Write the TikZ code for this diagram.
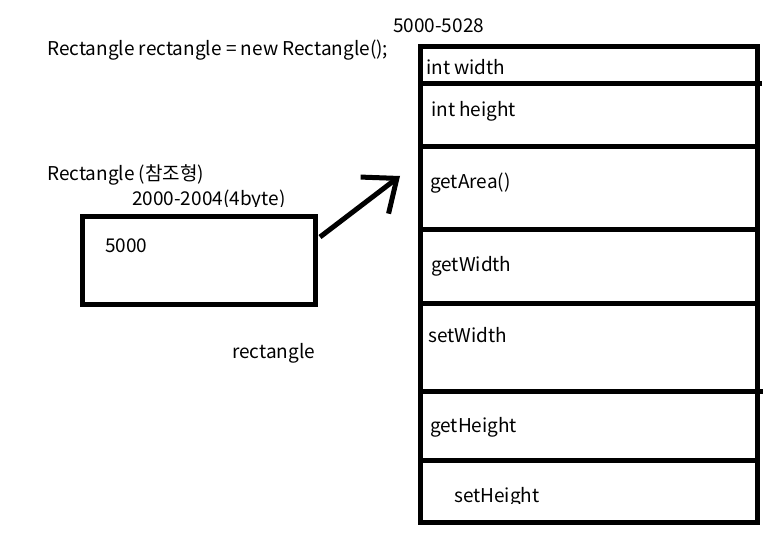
\documentclass[tikz,border=0pt]{standalone}
\usepackage{fontspec}
\setmainfont{Noto Sans CJK KR}
\usetikzlibrary{arrows.meta,positioning}

\begin{document}
\begin{tikzpicture}[x=1pt,y=-1pt,
        box/.style={draw,line width=5pt,inner sep=0pt},
        lbl/.style={anchor=base west,inner sep=0pt,font=\fontsize{19}{22}\selectfont}]
    \useasboundingbox (0,0) rectangle (783,534);
    % code line and object memory
    \node[lbl] (code) at (47,56) {Rectangle rectangle = new Rectangle();};
    \node[lbl] (addr) at (393,33) {5000-5028};
    \node[box,minimum width=337pt,minimum height=476pt,anchor=north west] (heap) at (418,44) {};
    \foreach \y/\e in {84/762,147/757,230/757,303/757,391/763,460/755}
        \draw[line width=5pt] (418,\y) -- (\e,\y);
    \node[lbl] (width)   at (426,75)  {int width};
    \node[lbl] (height)  at (431,117) {int height};
    \node[lbl] (area)    at (430,189) {getArea()};
    \node[lbl] (getw)    at (431,272) {getWidth};
    \node[lbl] (setw)    at (428,342) {setWidth};
    \node[lbl] (geth)    at (430,432) {getHeight};
    \begin{scope}
        \clip (418,462) rectangle (755,503);
        \node[lbl] (seth)    at (454,502) {setHeight};
    \end{scope}
    % reference variable
    \node[lbl] (type)    at (47,181)  {Rectangle (참조형)};
    \begin{scope}
        \clip (100,185) rectangle (320,207);
        \node[lbl] (size)    at (132,206) {2000-2004(4byte)};
    \end{scope}
    \node[box,minimum width=233pt,minimum height=88pt,anchor=north west] (ref) at (80,214) {};
    \node[lbl] (val)     at (105,253) {5000};
    \node[lbl] (name)    at (232,358) {rectangle};
    % pointer
    \coordinate (tail) at (320,237);
    \coordinate (tip) at (400,176);
    \draw[line width=5pt,-{Straight Barb[length=28pt,width=46pt]}] (tail) -- (tip);
\end{tikzpicture}
\end{document}
